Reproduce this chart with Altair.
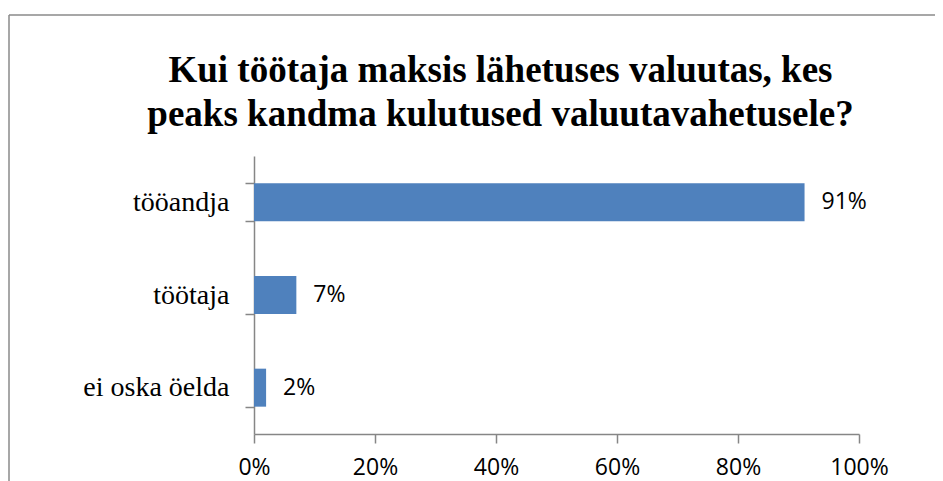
import altair as alt
import pandas as pd

categories = ["tööandja", "töötaja", "ei oska öelda"]
values = [0.91, 0.07, 0.02]
tick_values = [0, 0.2, 0.4, 0.6, 0.8, 1.0]
title_lines = ["Kui töötaja maksis lähetuses valuutas, kes",
               "peaks kandma kulutused valuutavahetusele?"]

df = pd.DataFrame({"cat": categories, "val": values})
df["lbl"] = [f"{round(v*100)}%" for v in values]

AXIS_GRAY = "#868686"
LABEL_FONT = "Open Sans"

y_enc = alt.Y(
    "cat:N", sort=None, title=None,
    scale=alt.Scale(paddingInner=0.59, paddingOuter=0.295),
    axis=alt.Axis(
        labelFont="Liberation Serif", labelFontSize=28, labelColor="black",
        labelPadding=16, tickSize=9, tickColor=AXIS_GRAY, domainColor=AXIS_GRAY,
        tickBand="extent", domainWidth=1.5, tickWidth=1.5,
    ),
)
x_enc = alt.X(
    "val:Q", title=None,
    scale=alt.Scale(domain=[0, 1], nice=False),
    axis=alt.Axis(
        values=tick_values, format=".0%", grid=False, labelFlush=False,
        labelFont=LABEL_FONT, labelFontSize=23, labelColor="black",
        labelPadding=13, tickSize=9, tickColor=AXIS_GRAY, domainColor=AXIS_GRAY,
        domainWidth=1.5, tickWidth=1.5,
    ),
)

base = alt.Chart(df)
bars = base.mark_bar(color="#4F81BD").encode(x=x_enc, y=y_enc)
labels = base.mark_text(
    align="left", baseline="middle", dx=17,
    font=LABEL_FONT, fontSize=23, color="black",
).encode(x="val:Q", y=alt.Y("cat:N", sort=None), text="lbl:N")

frame_df = pd.DataFrame({"a": [0]})
frame_left = alt.Chart(frame_df).mark_rule(color="#8a8a8a", strokeWidth=1.5).encode(
    x=alt.value(-245), y=alt.value(-141), y2=alt.value(400))
frame_top = alt.Chart(frame_df).mark_rule(color="#8a8a8a", strokeWidth=1.5).encode(
    x=alt.value(-245), x2=alt.value(800), y=alt.value(-141))

chart = alt.layer(frame_left, frame_top, bars, labels).properties(
    width=605, height=278,
    title=alt.TitleParams(
        text=title_lines, font="Liberation Serif", fontSize=37,
        fontWeight="bold", color="black", lineHeight=44,
        anchor="middle", dx=-56, offset=0, baseline="alphabetic", dy=149,
    ),
    autosize=alt.AutoSizeParams(type="none"),
    padding={"left": 246, "top": 148, "right": 76, "bottom": 47},
).configure_view(stroke=None)

chart.save("out.html", embed_options={"renderer": "svg", "actions": False})
